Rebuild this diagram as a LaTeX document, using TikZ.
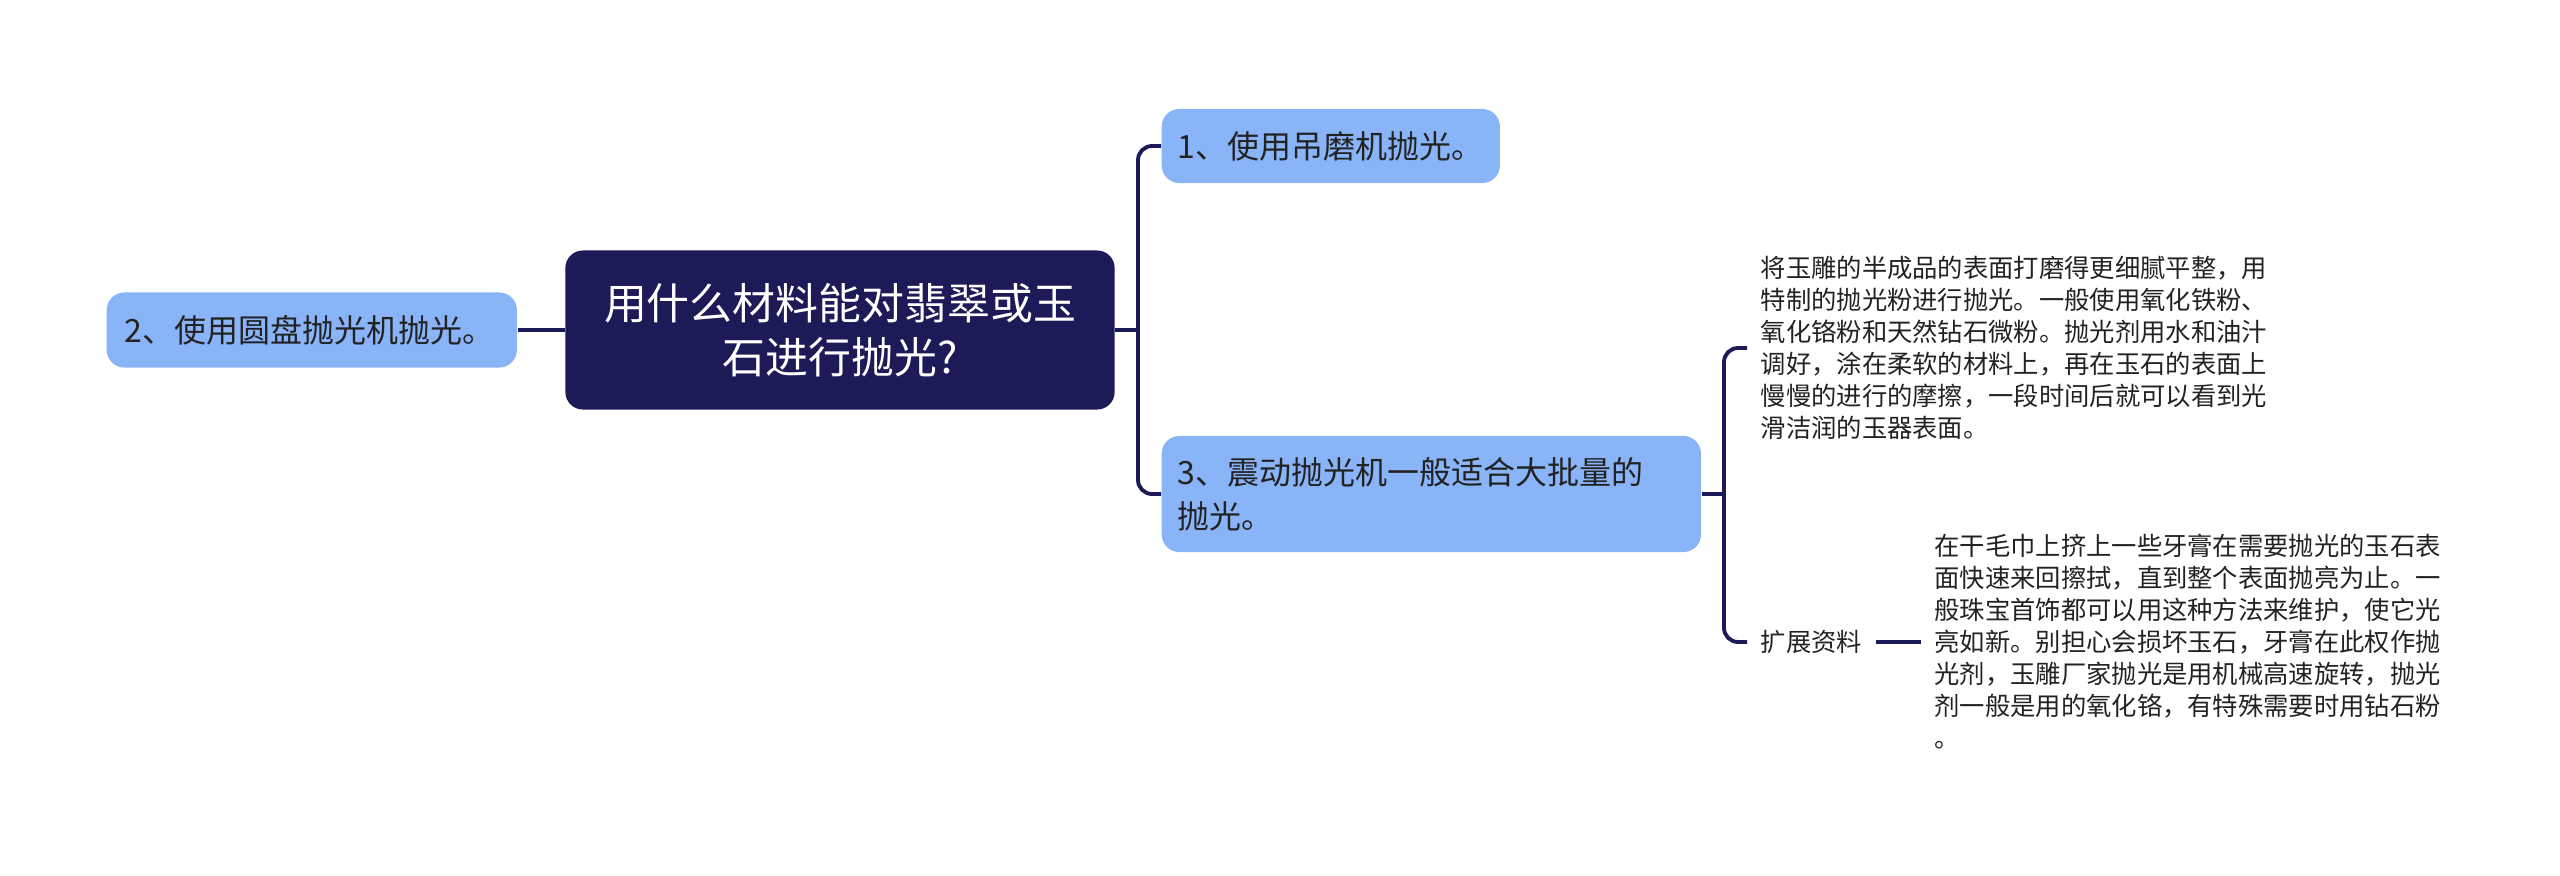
\documentclass[tikz,border=0pt]{standalone}
\usepackage{fontspec}
\setmainfont{Noto Sans CJK SC}
\usetikzlibrary{positioning}
\definecolor{navy}{HTML}{1C1A57}
\definecolor{skyblue}{HTML}{8AB4F8}
\definecolor{inkgray}{HTML}{222222}

\begin{document}
\begin{tikzpicture}[x=0.01cm,y=-0.01cm,
		conn/.style={draw=navy,line width=1.1pt,rounded corners=4pt},
		topic/.style={fill=skyblue,rounded corners=5pt,text=inkgray,align=left,inner xsep=0.16cm,inner ysep=0pt,font=\fontsize{9.1}{12.5}\selectfont},
		note/.style={text=inkgray,align=left,inner sep=0.13cm,font=\fontsize{7.2}{9.1}\selectfont}]
		\useasboundingbox (0,0) rectangle (2560,875);
		\node (root) [fill=navy,text=white,rounded corners=5pt,minimum width=5.49cm,minimum height=1.59cm,align=center,font=\fontsize{12.2}{15.4}\selectfont] at (840,330) {用什么材料能对翡翠或玉\\石进行抛光?};
		\node (n2) [topic,text width=3.74cm,minimum height=0.75cm,inner xsep=0.18cm,left=0.47cm of root] {2、使用圆盘抛光机抛光。};
		\draw[conn] (root.west) -- (n2.east);
		\node (n1) [topic,text width=3.06cm,minimum height=0.74cm,anchor=west] at (1161,146) {1、使用吊磨机抛光。};
		\node (n3) [topic,text width=5.07cm,minimum height=1.16cm,anchor=west] at (1161,494) {3、震动抛光机一般适合大批量的\\抛光。};
		\coordinate (b1) at (1138,330);
		\draw[conn] (root.east) -- (b1);
		\draw[conn] (n1.west) -| (b1) |- (n3.west);
		\node (txt1) [note,anchor=west] at (1747,348) {将玉雕的半成品的表面打磨得更细腻平整，用\\特制的抛光粉进行抛光。一般使用氧化铁粉、\\氧化铬粉和天然钻石微粉。抛光剂用水和油汁\\调好，涂在柔软的材料上，再在玉石的表面上\\慢慢的进行的摩擦，一段时间后就可以看到光\\滑洁润的玉器表面。};
		\node (ext) [note,anchor=west] at (1747,642) {扩展资料};
		\node (txt2) [note,right=0.45cm of ext] {在干毛巾上挤上一些牙膏在需要抛光的玉石表\\面快速来回擦拭，直到整个表面抛亮为止。一\\般珠宝首饰都可以用这种方法来维护，使它光\\亮如新。别担心会损坏玉石，牙膏在此权作抛\\光剂，玉雕厂家抛光是用机械高速旋转，抛光\\剂一般是用的氧化铬，有特殊需要时用钻石粉\\。};
		\coordinate (b3) at (1724,494);
		\draw[conn] (n3.east) -- (b3);
		\draw[conn] (txt1.west) -| (b3) |- (ext.west);
		\draw[conn] (ext.east) -- (txt2.west);
	\end{tikzpicture}
\end{document}
